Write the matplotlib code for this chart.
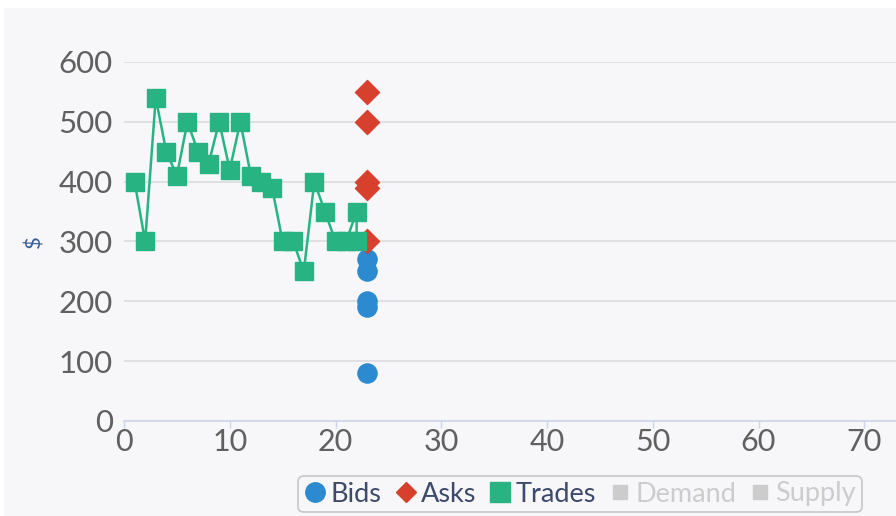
import numpy as np
import matplotlib.pyplot as plt
from matplotlib.patches import Rectangle
from matplotlib.lines import Line2D

plt.rcParams['font.family'] = ['Lato', 'DejaVu Sans']

# data
trade_x = [1, 2, 3, 4, 5, 6, 7, 8, 9, 10, 11, 12, 13, 14, 15, 16, 17, 18, 19, 20, 21, 22, 22]
trade_y = [400, 300, 540, 450, 410, 500, 450, 430, 500, 420, 500, 410, 400, 390, 300, 300, 250, 400, 350, 300, 300, 350, 300]
ask_x = [23, 23, 23, 23, 23]
ask_y = [550, 500, 400, 390, 300]
bid_x = [23, 23, 23, 23, 23]
bid_y = [270, 250, 200, 190, 80]

c_bid = '#2b8ad0'
c_ask = '#d7402d'
c_trade = '#27b482'
bg = '#f7f6f9'

fig = plt.figure(figsize=(8.96, 5.16), dpi=100, facecolor='white')
fig.patches.append(Rectangle((4 / 896, 0), 1, 1 - 8 / 516, transform=fig.transFigure,
                             facecolor=bg, edgecolor='none', zorder=-1))

ax = fig.add_axes([124 / 896, 1 - 421 / 516, 1 - 124 / 896, (421 - 62) / 516])
ax.set_facecolor(bg)

ax.scatter(bid_x, bid_y, s=190, color=c_bid, marker='o', zorder=3, clip_on=False)
ax.scatter(ask_x, ask_y, s=150, color=c_ask, marker='D', zorder=3, clip_on=False)
ax.plot(trade_x, trade_y, color=c_trade, lw=1.8, marker='s', markersize=13.5,
        zorder=4, clip_on=False)

ax.set_xlim(0, 73)
ax.set_ylim(0, 600)
ax.set_xticks(np.arange(0, 80, 10))
ax.set_yticks(np.arange(0, 700, 100))
ax.grid(axis='y', color='#dcdcdf', lw=1.2)
ax.set_axisbelow(True)
for s in ['top', 'right', 'left']:
    ax.spines[s].set_visible(False)
ax.spines['bottom'].set_color('#ccd6eb')
ax.spines['bottom'].set_linewidth(1.2)
ax.tick_params(axis='x', colors='#ccd6eb', length=5, width=1, labelcolor='#606060',
               labelsize=22, pad=0)
ax.tick_params(axis='y', length=0, labelcolor='#606060', labelsize=22.5, pad=8)
ax.set_ylabel('$', color='#3a5f9a', fontsize=16, labelpad=10, rotation=90)

handles = [
    Line2D([], [], ls='', marker='o', color=c_bid, markersize=14),
    Line2D([], [], ls='', marker='D', color=c_ask, markersize=10.5),
    Line2D([], [], ls='', marker='s', color=c_trade, markersize=14),
    Line2D([], [], ls='', marker='s', color='#cccccc', markersize=10.5),
    Line2D([], [], ls='', marker='s', color='#cccccc', markersize=10.5),
]
labels = ['Bids', 'Asks', 'Trades', 'Demand', 'Supply']
leg = fig.legend(handles, labels, loc='center', bbox_to_anchor=(580 / 896, 1 - 494 / 516),
                 ncol=5, frameon=True, fontsize=19.5, handletextpad=0.15,
                 columnspacing=0.45, handlelength=0.85, borderpad=0.2,
                 borderaxespad=0, fancybox=True)
leg.get_frame().set_edgecolor('#bbbbbb')
leg.get_frame().set_facecolor(bg)
leg.get_frame().set_linewidth(1.2)
for t, c in zip(leg.get_texts(), ['#3e4a6b'] * 3 + ['#cccccc'] * 2):
    t.set_color(c)

fig.savefig('out.png', dpi=100, facecolor=fig.get_facecolor())
